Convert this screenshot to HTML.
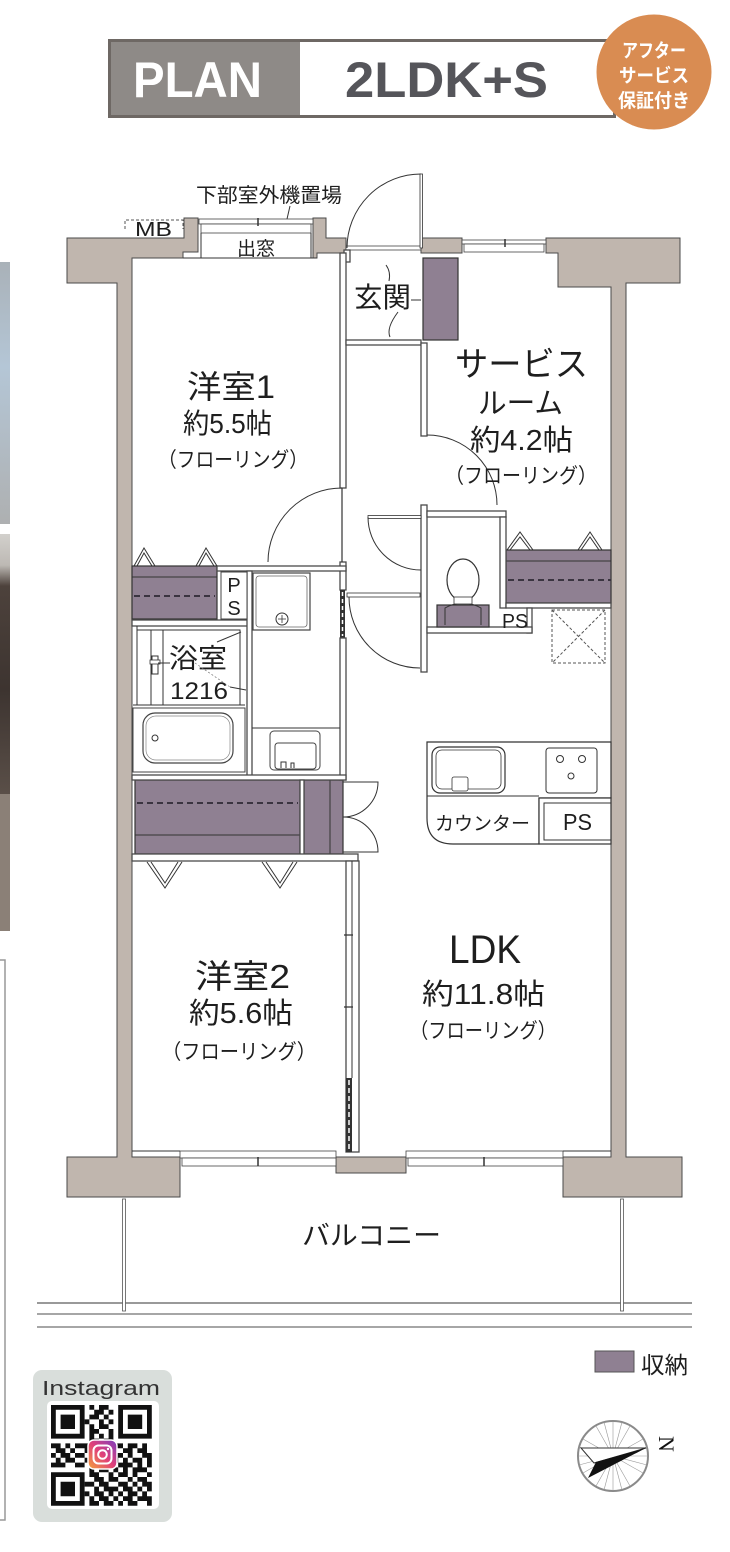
<!DOCTYPE html>
<html><head><meta charset="utf-8">
<style>
html,body{margin:0;padding:0;background:#fff;}
svg{display:block;}
text{font-family:"Liberation Sans","Noto Sans CJK JP",sans-serif;fill:#1e1e1e;}
.w{fill:#fff;stroke:#4a4a4a;stroke-width:1.3;}
.s{fill:#8f8092;stroke:#333;stroke-width:1.2;}
.ln{stroke:#333;stroke-width:1;fill:none;}
.dl{stroke:#3a3440;stroke-width:2;stroke-dasharray:6 4;fill:none;}
.ex{fill:#c0b6ae;stroke:#4a4a4a;stroke-width:1;}
</style></head><body>
<svg width="730" height="1552" viewBox="0 0 730 1552" xmlns="http://www.w3.org/2000/svg">
<defs>
<linearGradient id="p1" x1="0" y1="0" x2="0" y2="1"><stop offset="0" stop-color="#a9b1b8"/><stop offset="0.4" stop-color="#b4c6d6"/><stop offset="1" stop-color="#aeb0b1"/></linearGradient>
<linearGradient id="p2" x1="0" y1="0" x2="0" y2="1"><stop offset="0" stop-color="#d2d0cc"/><stop offset="0.12" stop-color="#bdb9b4"/><stop offset="0.2" stop-color="#4d423c"/><stop offset="0.6" stop-color="#3d3430"/><stop offset="1" stop-color="#5a4f48"/></linearGradient>
<linearGradient id="ig" x1="0" y1="1" x2="1" y2="0"><stop offset="0" stop-color="#f5a33a"/><stop offset="0.5" stop-color="#e0407a"/><stop offset="1" stop-color="#7a3fc0"/></linearGradient>
</defs>

<!-- left edge photos -->
<rect x="0" y="262" width="10" height="262" fill="url(#p1)"/>
<rect x="0" y="534" width="10" height="260" fill="url(#p2)"/>
<rect x="0" y="794" width="10" height="137" fill="#8b8077"/>
<path d="M0 960H5V1520H0" stroke="#999" stroke-width="1.5" fill="none"/>

<!-- header -->
<rect x="109.5" y="40.5" width="505" height="76" fill="#fff" stroke="#6e6864" stroke-width="3"/>
<rect x="111" y="42" width="189" height="73" fill="#8e8a87"/>
<text x="133" y="97" font-size="50" font-weight="bold" textLength="129" lengthAdjust="spacingAndGlyphs" style="fill:#fff">PLAN</text>
<text x="345" y="97" font-size="50" font-weight="bold" textLength="203" lengthAdjust="spacingAndGlyphs" style="fill:#55555a">2LDK+S</text>
<circle cx="654" cy="72" r="57.5" fill="#d98c52"/>
<text x="654" y="57" font-size="19" font-weight="bold" text-anchor="middle" textLength="64" lengthAdjust="spacingAndGlyphs" style="fill:#fff">アフター</text>
<text x="654" y="82" font-size="19" font-weight="bold" text-anchor="middle" textLength="70" lengthAdjust="spacingAndGlyphs" style="fill:#fff">サービス</text>
<text x="654" y="107" font-size="19" font-weight="bold" text-anchor="middle" textLength="72" lengthAdjust="spacingAndGlyphs" style="fill:#fff">保証付き</text>

<!-- top labels -->
<text x="196" y="202" font-size="20" textLength="146" lengthAdjust="spacingAndGlyphs">下部室外機置場</text>
<line x1="290" y1="206" x2="287" y2="219" class="ln"/>
<path d="M125 229V220H183V229" stroke="#555" stroke-width="1" stroke-dasharray="3 2" fill="none"/>
<text x="135" y="236" font-size="20" textLength="37" lengthAdjust="spacingAndGlyphs">MB</text>

<!-- balcony -->
<line x1="37" y1="1303" x2="692" y2="1303" stroke="#333" stroke-width="1"/>
<line x1="37" y1="1314" x2="692" y2="1314" stroke="#888" stroke-width="1.5"/>
<line x1="37" y1="1327" x2="692" y2="1327" stroke="#888" stroke-width="1.5"/>
<rect x="122.5" y="1199" width="3" height="112" fill="#fff" stroke="#555" stroke-width="0.8"/>
<rect x="620.5" y="1199" width="3" height="112" fill="#fff" stroke="#555" stroke-width="0.8"/>
<text x="302" y="1245" font-size="27" textLength="139" lengthAdjust="spacingAndGlyphs">バルコニー</text>

<!-- exterior walls -->
<path class="ex" d="M67 238H184V218H198V252H183V258H132V1157H180V1197H67V1157H117V283H67Z"/>
<path class="ex" d="M546 238H680V283H626V1157H682V1197H563V1157H611V287H558V253H546Z"/>
<rect class="ex" x="336" y="1157" width="70" height="16"/>
<path class="ex" d="M313 218H326V238H346V253H317V258H313Z"/>
<rect class="ex" x="421" y="238" width="41" height="15"/>

<!-- windows -->
<rect x="199" y="219" width="114" height="5" fill="#fff" stroke="#444" stroke-width="0.8"/>
<rect x="201" y="224" width="110" height="9" fill="#fff" stroke="#444" stroke-width="0.8"/>
<line x1="258" y1="218" x2="258" y2="226" stroke="#333" stroke-width="1.5"/>
<path d="M201 233V258M311 233V258M183 258H317" class="ln"/>
<text x="237" y="255" font-size="19" textLength="38" lengthAdjust="spacingAndGlyphs">出窓</text>
<rect x="462" y="240" width="84" height="4" fill="#fff" stroke="#444" stroke-width="0.8"/>
<rect x="464" y="244" width="80" height="8" fill="#fff" stroke="#444" stroke-width="0.8"/>
<line x1="505" y1="239" x2="505" y2="247" stroke="#333" stroke-width="1.5"/>
<rect x="180" y="1151" width="156" height="7" fill="#fff" stroke="#444" stroke-width="0.8"/>
<rect x="182" y="1158" width="154" height="8" fill="#fff" stroke="#444" stroke-width="0.8"/>
<line x1="258" y1="1157" x2="258" y2="1166" stroke="#333" stroke-width="1.5"/>
<rect x="406" y="1151" width="157" height="7" fill="#fff" stroke="#444" stroke-width="0.8"/>
<rect x="408" y="1158" width="155" height="8" fill="#fff" stroke="#444" stroke-width="0.8"/>
<line x1="484" y1="1157" x2="484" y2="1166" stroke="#333" stroke-width="1.5"/>
<path d="M132 1151H180M611 1151H563" class="ln"/>

<!-- entry door -->
<rect x="346" y="246" width="75" height="4" fill="#fff" stroke="#444" stroke-width="0.8"/>
<path d="M421 174A74 74 0 0 0 347 248" class="ln"/>
<rect x="420" y="174" width="2.5" height="74" fill="#fff" stroke="#333" stroke-width="0.8"/>
<rect x="344" y="250" width="6" height="12" class="w"/>

<!-- storage (purple) -->
<rect class="s" x="423" y="258" width="35" height="82"/>
<rect class="s" x="132" y="566" width="85" height="53"/>
<line x1="132" y1="577" x2="217" y2="577" class="ln"/>
<line x1="134" y1="596" x2="215" y2="596" class="dl"/>
<rect class="s" x="135" y="780" width="165" height="74"/>
<line x1="137" y1="803" x2="298" y2="803" class="dl"/>
<line x1="135" y1="835" x2="300" y2="835" class="ln"/>
<rect class="s" x="304" y="780" width="39" height="74"/>
<line x1="330" y1="780" x2="330" y2="854" class="ln"/>
<rect class="s" x="506" y="550" width="105" height="53"/>
<line x1="506" y1="561" x2="611" y2="561" class="ln"/>
<line x1="508" y1="580" x2="611" y2="580" class="dl"/>

<!-- interior walls -->
<rect class="w" x="340" y="253" width="6" height="235"/>
<rect class="w" x="340" y="562" width="6" height="28"/>
<rect x="340" y="590" width="5" height="48" fill="#333"/>
<line x1="342.5" y1="592" x2="342.5" y2="636" stroke="#fff" stroke-width="1.5" stroke-dasharray="4 3"/>
<rect class="w" x="340" y="638" width="6" height="142"/>
<line x1="342" y1="488" x2="342" y2="562" stroke="#333" stroke-width="1.2"/>
<rect class="w" x="346" y="340" width="75" height="5"/>
<rect class="w" x="421" y="343" width="6" height="93"/>
<rect class="w" x="421" y="505" width="6" height="167"/>
<rect class="w" x="427" y="511" width="79" height="6"/>
<rect class="w" x="500" y="517" width="6" height="91"/>
<rect class="w" x="506" y="603" width="105" height="5"/>
<rect class="w" x="527" y="608" width="5" height="25"/>
<rect class="w" x="427" y="627" width="105" height="6"/>
<rect class="w" x="217" y="566" width="129" height="5"/>
<rect class="w" x="132" y="620" width="120" height="6"/>
<rect class="w" x="247" y="571" width="5" height="206"/>
<rect class="w" x="132" y="775" width="214" height="5"/>
<rect class="w" x="300" y="780" width="4" height="75"/>
<rect class="w" x="132" y="854" width="226" height="7"/>
<rect class="w" x="346" y="861" width="13" height="291"/>
<line x1="352" y1="861" x2="352" y2="1078" class="ln"/>
<path d="M344 935H353M344 1007H353" stroke="#333" stroke-width="1.2"/>
<rect x="346" y="1078" width="6" height="74" fill="#333"/>
<line x1="349" y1="1080" x2="349" y2="1150" stroke="#fff" stroke-width="1.5" stroke-dasharray="5 3"/>

<!-- doors -->
<path d="M268 562A74 74 0 0 1 342 488" class="ln"/>
<path d="M427 435A70 70 0 0 1 497 505" class="ln"/>
<rect x="368" y="515.5" width="53" height="3" fill="#fff" stroke="#333" stroke-width="0.8"/>
<path d="M368 517A53 53 0 0 0 421 570" class="ln"/>
<rect x="347" y="593" width="73" height="4" fill="#fff" stroke="#333" stroke-width="0.8"/>
<path d="M349 597A71 71 0 0 0 420 668" class="ln"/>
<path d="M343 782H378A35 35 0 0 1 343 817M343 852H378A35 35 0 0 0 343 817" class="ln"/>
<!-- bifold -->
<path d="M134 566L144 548L155 566M137 566L144 553L152 566M196 566L206 548L217 566M199 566L206 553L214 566" class="ln"/>
<path d="M507 550L520 532L533 550M510 550L520 537L530 550M578 550L590 532L602 550M581 550L590 537L599 550" class="ln"/>
<path d="M147 862L165 888L182 862M151 862L165 883L178 862M262 862L280 888L297 862M266 862L280 883L293 862" class="ln"/>

<!-- entry labels -->
<text x="354" y="307" font-size="28" textLength="57" lengthAdjust="spacingAndGlyphs">玄関</text>
<path d="M411 300H421M386 265Q391 272 389 281M390 337Q386 328 398 312" class="ln"/>

<!-- PS 1 -->
<rect x="221" y="572" width="26" height="47" fill="#fff" stroke="#444" stroke-width="1"/>
<text x="234" y="592" font-size="20" text-anchor="middle">P</text>
<text x="234" y="615" font-size="20" text-anchor="middle">S</text>

<!-- washing pan -->
<rect x="253" y="573" width="57" height="57" fill="#fff" stroke="#444" stroke-width="1.2"/>
<rect x="256" y="576" width="51" height="51" rx="3" fill="none" stroke="#666" stroke-width="0.8"/>
<circle cx="282" cy="619" r="6" fill="none" stroke="#333"/>
<path d="M278 619H286M282 615V623" stroke="#333" stroke-width="0.8"/>

<!-- bath -->
<path d="M137 626V705M151 630V705M163 630V705M137 630H240V705M133 705H245" class="ln"/>
<rect x="133" y="708" width="112" height="64" fill="#fff" stroke="#444" stroke-width="1"/>
<rect x="143" y="713" width="90" height="50" rx="12" fill="#fff" stroke="#444" stroke-width="1.2"/>
<rect x="146" y="716" width="84" height="44" rx="10" fill="none" stroke="#888" stroke-width="0.7"/>
<circle cx="155" cy="738" r="3" fill="none" stroke="#333"/>
<rect x="152" y="656" width="6" height="18" fill="#fff" stroke="#333"/>
<rect x="150" y="660" width="10" height="4" fill="#fff" stroke="#333" stroke-width="0.8"/>
<line x1="158" y1="663" x2="170" y2="663" class="ln"/>
<text x="169" y="668" font-size="27" textLength="58" lengthAdjust="spacingAndGlyphs">浴室</text>
<text x="170" y="699" font-size="24" textLength="58" lengthAdjust="spacingAndGlyphs">1216</text>
<path d="M217 642L241 632M230 687L246 690" class="ln"/>
<line x1="195" y1="663" x2="230" y2="687" stroke="#777" stroke-width="0.7" stroke-dasharray="2 2"/>

<!-- washroom sink -->
<line x1="252" y1="728" x2="340" y2="728" class="ln"/>
<rect x="270" y="731" width="50" height="39" rx="4" fill="#fff" stroke="#444" stroke-width="1"/>
<rect x="275" y="743" width="41" height="26" rx="3" fill="none" stroke="#444" stroke-width="1"/>
<path d="M281 768V762H286V768M291 768V763H294V768" stroke="#333" fill="none"/>

<!-- toilet -->
<rect class="s" x="437" y="605" width="52" height="22"/>
<path d="M445 625V608Q463 598 481 608V625" fill="none" stroke="#333"/>
<ellipse cx="463" cy="580" rx="16" ry="21" fill="#fff" stroke="#333" stroke-width="1.2"/>
<rect x="454" y="597" width="18" height="7" fill="#fff" stroke="#333" stroke-width="0.8"/>
<text x="502" y="628" font-size="20" textLength="26" lengthAdjust="spacingAndGlyphs">PS</text>
<rect x="552" y="610" width="53" height="53" fill="none" stroke="#555" stroke-width="1" stroke-dasharray="3 2"/>
<path d="M552 610L605 663M605 610L552 663" stroke="#555" stroke-width="1" stroke-dasharray="3 2"/>

<!-- kitchen -->
<path d="M427 742H611V798H539V844H453Q427 844 427 818Z" fill="#fff" stroke="#333" stroke-width="1.2"/>
<line x1="427" y1="796" x2="539" y2="796" class="ln"/>
<rect x="539" y="798" width="72" height="46" fill="#fff" stroke="#333" stroke-width="1.2"/>
<rect x="544" y="803" width="67" height="37" fill="none" stroke="#333" stroke-width="1"/>
<text x="563" y="830" font-size="23" textLength="29" lengthAdjust="spacingAndGlyphs">PS</text>
<rect x="432" y="747" width="73" height="46" rx="8" fill="#fff" stroke="#333" stroke-width="1.2"/>
<rect x="436" y="750" width="65" height="39" rx="6" fill="none" stroke="#333" stroke-width="0.8"/>
<rect x="452" y="777" width="16" height="14" rx="2" fill="#fff" stroke="#333" stroke-width="0.8"/>
<rect x="546" y="748" width="51" height="45" rx="3" fill="#fff" stroke="#333" stroke-width="1"/>
<circle cx="560" cy="759" r="3.5" fill="none" stroke="#333"/>
<circle cx="582" cy="759" r="3.5" fill="none" stroke="#333"/>
<circle cx="571" cy="776" r="3" fill="none" stroke="#333"/>
<text x="435" y="830" font-size="19" textLength="95" lengthAdjust="spacingAndGlyphs">カウンター</text>

<!-- room labels -->
<text x="187" y="398" font-size="32" textLength="88" lengthAdjust="spacingAndGlyphs">洋室1</text>
<text x="183" y="433" font-size="28" textLength="89" lengthAdjust="spacingAndGlyphs">約5.5帖</text>
<text x="158" y="467" font-size="21" textLength="150" lengthAdjust="spacingAndGlyphs">（フローリング）</text>

<text x="455" y="376" font-size="34" textLength="133" lengthAdjust="spacingAndGlyphs">サービス</text>
<text x="478" y="413" font-size="29" textLength="85" lengthAdjust="spacingAndGlyphs">ルーム</text>
<text x="470" y="450" font-size="29" textLength="103" lengthAdjust="spacingAndGlyphs">約4.2帖</text>
<text x="445" y="483" font-size="21" textLength="152" lengthAdjust="spacingAndGlyphs">（フローリング）</text>

<text x="195" y="988" font-size="33" textLength="95" lengthAdjust="spacingAndGlyphs">洋室2</text>
<text x="189" y="1023" font-size="29" textLength="104" lengthAdjust="spacingAndGlyphs">約5.6帖</text>
<text x="162" y="1059" font-size="21" textLength="154" lengthAdjust="spacingAndGlyphs">（フローリング）</text>

<text x="449" y="963" font-size="40" textLength="72" lengthAdjust="spacingAndGlyphs">LDK</text>
<text x="422" y="1004" font-size="29" textLength="123" lengthAdjust="spacingAndGlyphs">約11.8帖</text>
<text x="410" y="1038" font-size="21" textLength="146" lengthAdjust="spacingAndGlyphs">（フローリング）</text>

<!-- legend -->
<rect x="595" y="1351" width="39" height="21" fill="#8f8092" stroke="#555" stroke-width="1"/>
<text x="641" y="1373" font-size="23" textLength="47" lengthAdjust="spacingAndGlyphs">収納</text>

<!-- compass -->
<circle cx="613" cy="1456" r="35" fill="#fff" stroke="#8a8a8a" stroke-width="2"/>
<g stroke="#999" stroke-width="0.6">
<line x1="613" y1="1421" x2="613" y2="1491"/>
<line x1="578" y1="1456" x2="648" y2="1456"/>
<line x1="596" y1="1426" x2="630" y2="1486"/>
<line x1="630" y1="1426" x2="596" y2="1486"/>
<line x1="583" y1="1439" x2="643" y2="1473"/>
<line x1="583" y1="1473" x2="643" y2="1439"/>
<line x1="604" y1="1422" x2="622" y2="1490"/>
<line x1="622" y1="1422" x2="604" y2="1490"/>
<line x1="579" y1="1447" x2="647" y2="1465"/>
<line x1="579" y1="1465" x2="647" y2="1447"/>
</g>
<path d="M581 1448H646L594 1463Z" fill="#fff" stroke="#333" stroke-width="1"/>
<path d="M646 1448L588 1478L596 1462Z" fill="#111"/>
<text x="664" y="1444" font-size="22" text-anchor="middle" dominant-baseline="middle" transform="rotate(90 664 1444)" style="font-family:'Liberation Serif',serif;fill:#111">N</text>

<!-- instagram -->
<rect x="33" y="1370" width="139" height="152" rx="9" fill="#d9dedb"/>
<text x="42" y="1395" font-size="20" textLength="118" lengthAdjust="spacingAndGlyphs" style="fill:#333">Instagram</text>
<rect x="47" y="1401" width="112" height="108" rx="5" fill="#fff"/>
<g transform="translate(51 1405) scale(0.96) translate(-51 -1402)" fill="#111">
<path d="M51 1402h35v35h-35z M56 1407v25h25v-25z M61 1412h15v15h-15z" fill-rule="evenodd"/>
<path d="M121 1402h35v35h-35z M126 1407v25h25v-25z M131 1412h15v15h-15z" fill-rule="evenodd"/>
<path d="M51 1472h35v35h-35z M56 1477v25h25v-25z M61 1482h15v15h-15z" fill-rule="evenodd"/>
<path d="M91 1402h5v5h-5z M101 1402h10v5h-10z
M96 1407h10v5h-10z M111 1407h5v5h-5z
M91 1412h10v5h-10z M106 1412h5v5h-5z
M86 1417h5v5h-5z M101 1417h5v5h-5z M111 1417h5v5h-5z
M91 1422h5v5h-5z M101 1422h10v5h-10z
M91 1427h10v5h-10z M111 1427h5v5h-5z
M91 1432h5v5h-5z M101 1432h5v5h-5z M111 1432h5v5h-5z
M91 1437h10v5h-10z M106 1437h10v5h-10z
M51 1442h10v5h-10z M66 1442h5v5h-5z M76 1442h15v5h-15z M101 1442h5v5h-5z M111 1442h15v5h-15z M131 1442h10v5h-10z M146 1442h5v5h-5z
M56 1447h10v5h-10z M71 1447h5v5h-5z M86 1447h5v5h-5z M96 1447h10v5h-10z M111 1447h5v5h-5z M126 1447h10v5h-10z M141 1447h10v5h-10z
M51 1452h5v5h-5z M61 1452h10v5h-10z M76 1452h10v5h-10z M96 1452h5v5h-5z M106 1452h5v5h-5z M116 1452h10v5h-10z M131 1452h5v5h-5z M146 1452h10v5h-10z
M56 1457h5v5h-5z M66 1457h10v5h-10z M86 1457h10v5h-10z M101 1457h5v5h-5z M111 1457h10v5h-10z M126 1457h5v5h-5z M136 1457h10v5h-10z M151 1457h5v5h-5z
M51 1462h15v5h-15z M76 1462h10v5h-10z M91 1462h10v5h-10z M106 1462h5v5h-5z M121 1462h15v5h-15z M141 1462h5v5h-5z M151 1462h5v5h-5z
M91 1467h5v5h-5z M101 1467h10v5h-10z M116 1467h5v5h-5z M126 1467h5v5h-5z M136 1467h15v5h-15z
M91 1472h10v5h-10z M111 1472h5v5h-5z M121 1472h10v5h-10z M136 1472h5v5h-5z M151 1472h5v5h-5z
M96 1477h10v5h-10z M111 1477h10v5h-10z M131 1477h5v5h-5z M141 1477h10v5h-10z
M86 1482h10v5h-10z M101 1482h10v5h-10z M121 1482h10v5h-10z M136 1482h5v5h-5z M146 1482h10v5h-10z
M96 1487h5v5h-5z M106 1487h15v5h-15z M126 1487h10v5h-10z M141 1487h5v5h-5z M151 1487h5v5h-5z
M86 1492h5v5h-5z M96 1492h10v5h-10z M111 1492h5v5h-5z M121 1492h5v5h-5z M131 1492h10v5h-10z M146 1492h5v5h-5z
M91 1497h5v5h-5z M101 1497h10v5h-10z M116 1497h5v5h-5z M126 1497h10v5h-10z M141 1497h15v5h-15z
M91 1502h10v5h-10z M106 1502h10v5h-10z M121 1502h5v5h-5z M131 1502h10v5h-10z M151 1502h5v5h-5z"/>
</g>
<rect x="88" y="1440" width="29" height="29" rx="6" fill="url(#ig)" stroke="#fff" stroke-width="1.5"/>
<rect x="93.5" y="1445.5" width="18" height="18" rx="5" fill="none" stroke="#fff" stroke-width="2"/>
<circle cx="102.5" cy="1454.5" r="4.3" fill="none" stroke="#fff" stroke-width="2"/>
<circle cx="108" cy="1449" r="1.2" fill="#fff"/>
</svg>
</body></html>
